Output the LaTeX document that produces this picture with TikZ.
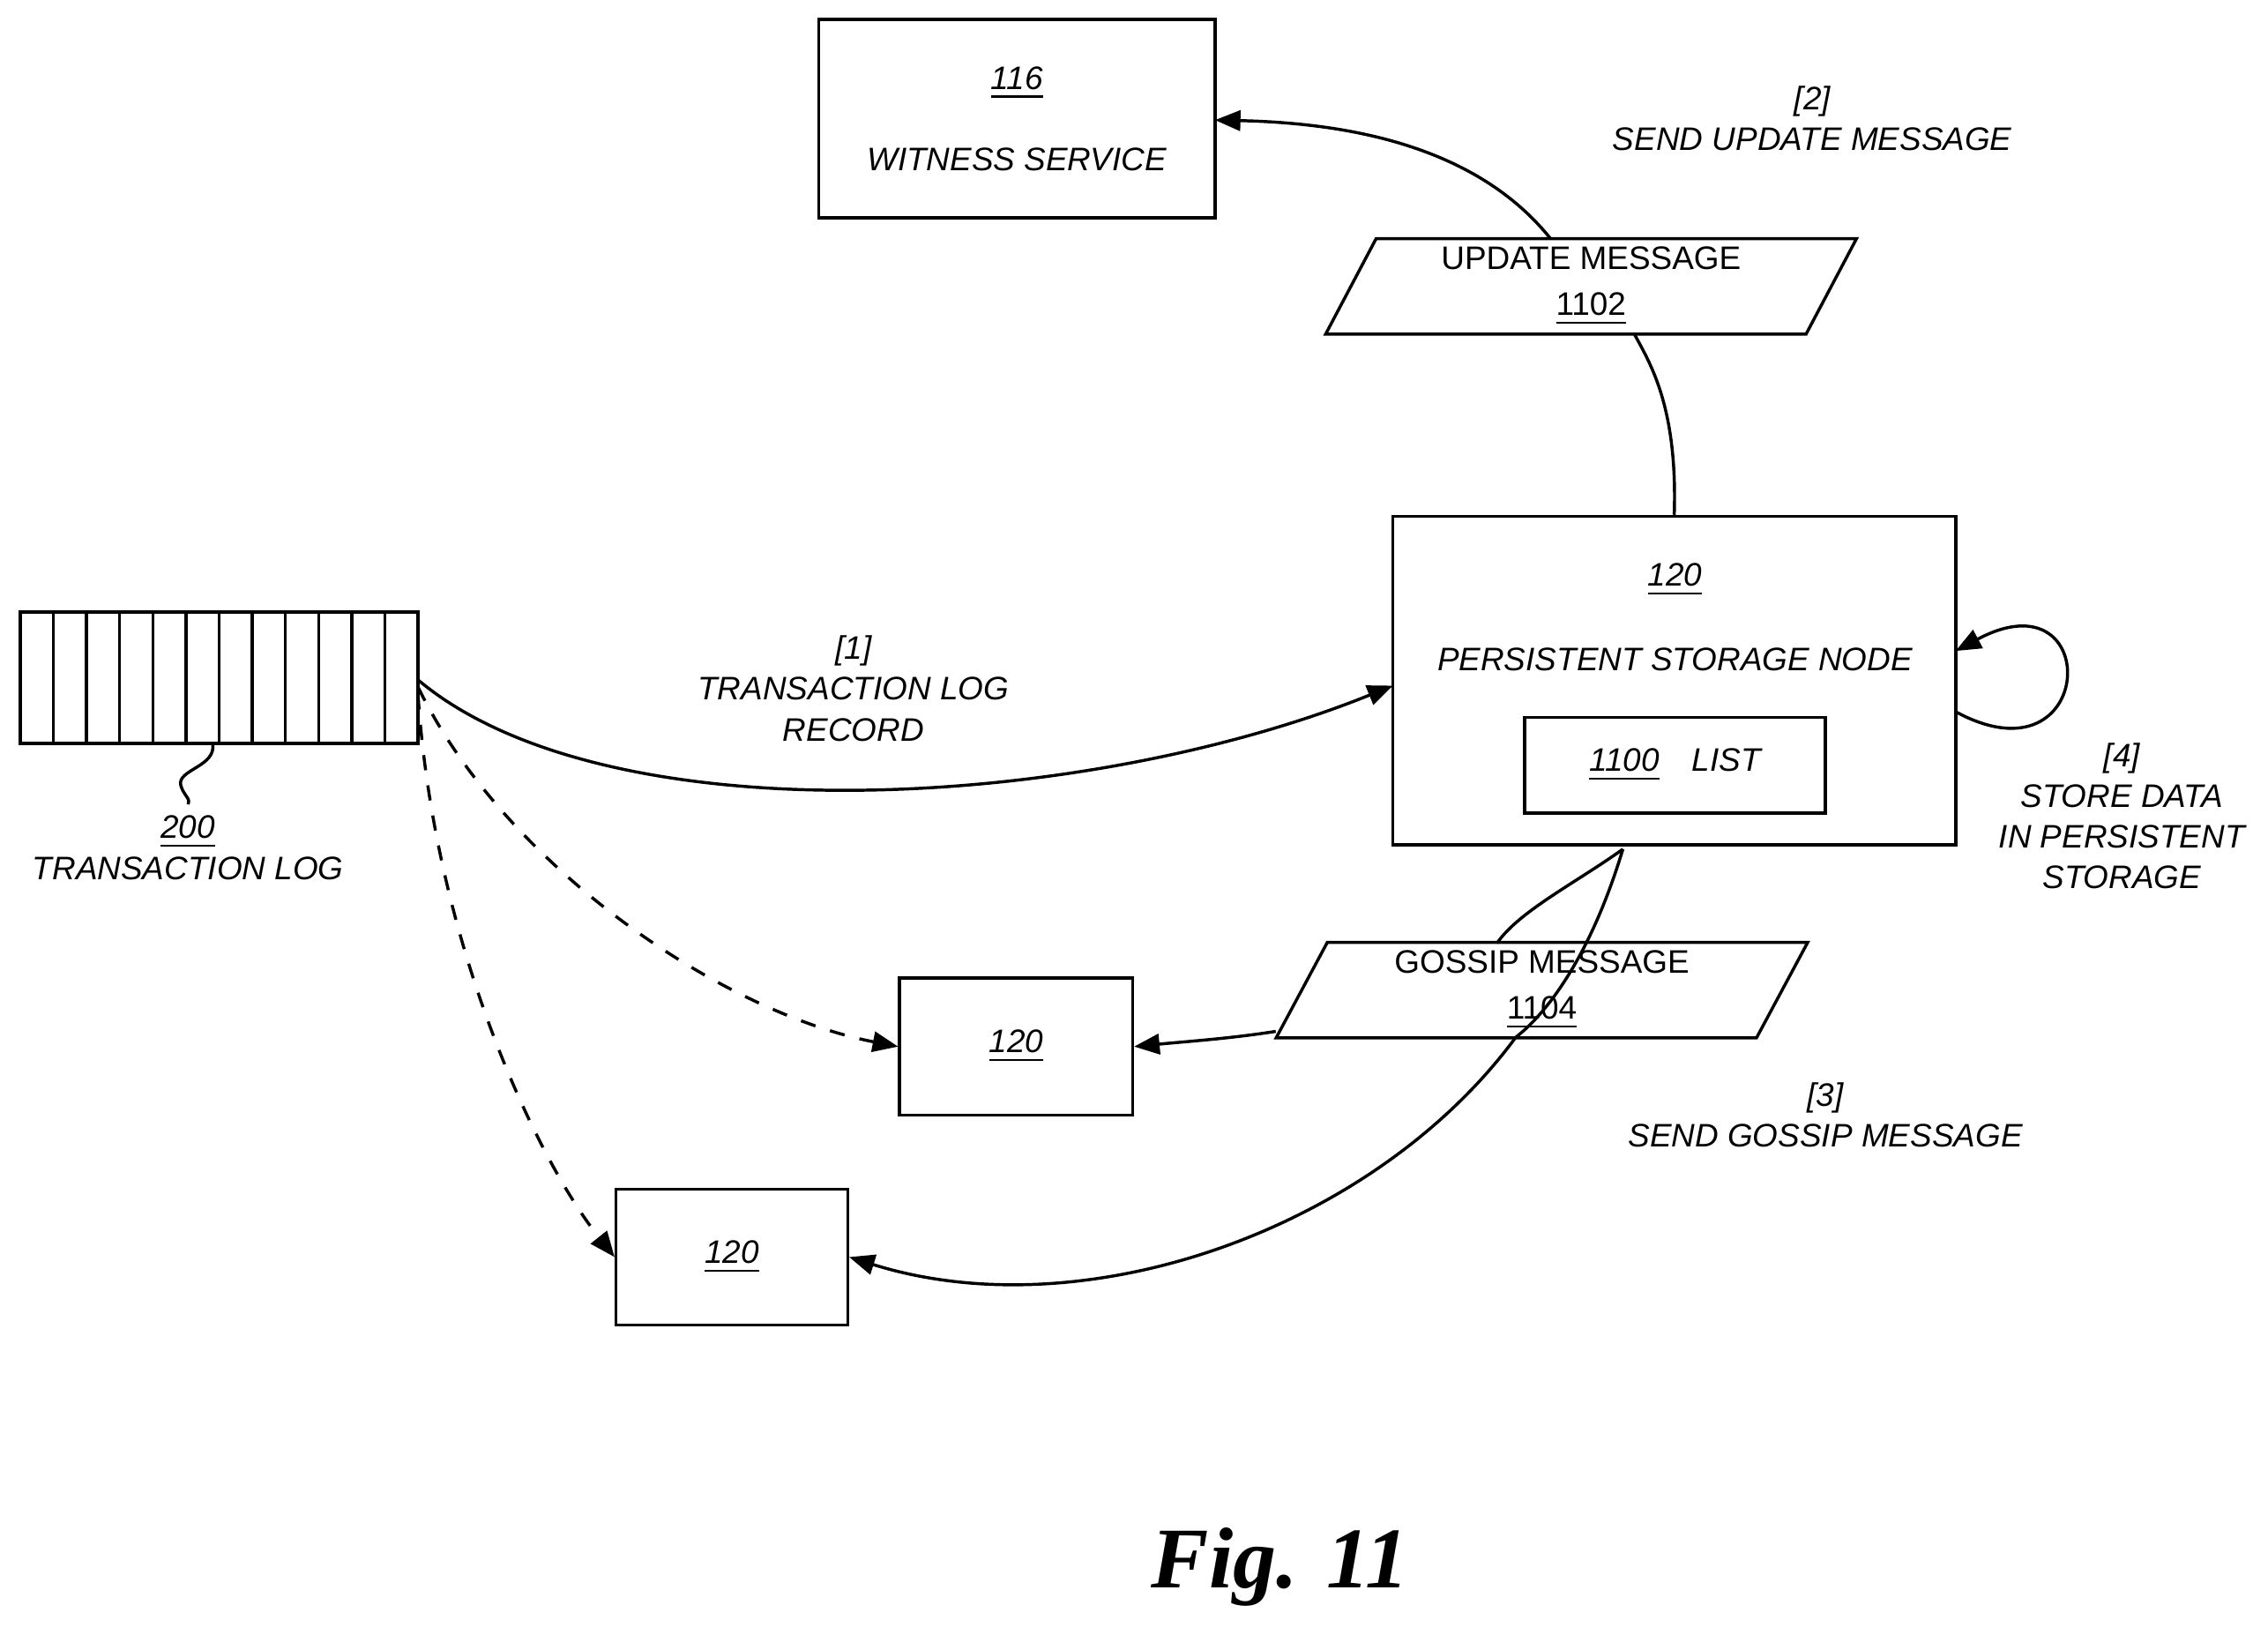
\documentclass[tikz,border=0pt]{standalone}
\usepackage{fontspec}
\setmainfont{Liberation Sans}
\newfontfamily\figfont{Liberation Serif}
\usetikzlibrary{arrows.meta,shapes.geometric}
\begin{document}
\begin{tikzpicture}[x=0.01cm,y=-0.01cm,line width=0.6pt,
    every node/.style={font=\fontsize{6.4}{8}\selectfont\itshape},
    box/.style={draw,inner sep=0},
    msg/.style={draw,trapezium,trapezium left angle=66,trapezium right angle=114,
      minimum width=3.68cm,minimum height=0.66cm,inner sep=0,trapezium stretches=true,
      font=\fontsize{6.4}{8}\selectfont,align=center},
    tip/.style={-{Triangle[length=5pt,width=4pt]}}]
  \useasboundingbox (0,0) rectangle (1568,1130);

  % boxes
  \node[box,minimum width=2.74cm,minimum height=1.37cm,align=center] (witness) at (703,82)
    {\underline{116}\\[8pt]WITNESS SERVICE};
  \node[box,minimum width=3.89cm,minimum height=2.27cm] (psn) at (1157.5,470.5) {};
  \node at (1158,401) {\underline{120}};
  \node at (1158,456) {PERSISTENT STORAGE NODE};
  \node[box,minimum width=2.08cm,minimum height=0.66cm] (list) at (1158,529) {\underline{1100}\quad LIST};
  \node[box,minimum width=1.61cm,minimum height=0.95cm] (mid) at (702.5,723.5) {\underline{120}};
  \node[box,minimum width=1.60cm,minimum height=0.94cm] (low) at (506,869) {\underline{120}};

  % messages
  \node[msg] (upd) at (1100,198) {UPDATE MESSAGE\\[1pt]\underline{1102}};
  \node[msg] (gos) at (1066,684.5) {GOSSIP MESSAGE\\[1pt]\underline{1104}};

  % transaction log
  \draw (14,423) rectangle (289,514);
  \foreach \i in {1,...,11} \draw ({14+\i*275/12},423) -- ({14+\i*275/12},514);
  \coordinate (log) at (289,470);
  \draw (147,514) .. controls (150,530) and (122,532) .. (125,543) .. controls (127,550) and (132,552) .. (130,556);
  \node[align=center] at (130,586) {\underline{200}\\TRANSACTION LOG};

  % connectors
  \draw[tip] (log) .. controls (420,580) and (750,560) .. (963,474);
  \draw[tip,dashed] (289,475) .. controls (350,600) and (500,700) .. (mid.west);
  \draw[tip,dashed] (289,480) .. controls (300,650) and (370,800) .. (low.west);
  \draw (psn.north) .. controls (1160,280) and (1140,250) .. (1130,231);
  \draw[tip] (1072,165) .. controls (1020,100) and (930,85) .. (840,83);
  \draw (1122,587) .. controls (1090,610) and (1050,630) .. (1035,652);
  \draw[tip] (882,713) .. controls (850,718) and (820,720) .. (mid.east);
  \draw (1122,587) .. controls (1100,660) and (1070,700) .. (1048,717);
  \draw[tip] (1048,717) .. controls (950,850) and (750,920) .. (low.east);
  \draw[tip] (1352,492) .. controls (1450,545) and (1455,395) .. (1352,450);

  % labels
  \node[align=center] at (590,476) {[1]\\TRANSACTION LOG\\RECORD};
  \node[align=center] at (1253,82) {[2]\\SEND UPDATE MESSAGE};
  \node[align=center] at (1262,771) {[3]\\SEND GOSSIP MESSAGE};
  \node[align=center] at (1467,564) {[4]\\STORE DATA\\IN PERSISTENT\\STORAGE};
  \node[font=\figfont\fontsize{17}{20}\selectfont\bfseries\itshape] at (885,1083) {Fig. 11};
\end{tikzpicture}
\end{document}
